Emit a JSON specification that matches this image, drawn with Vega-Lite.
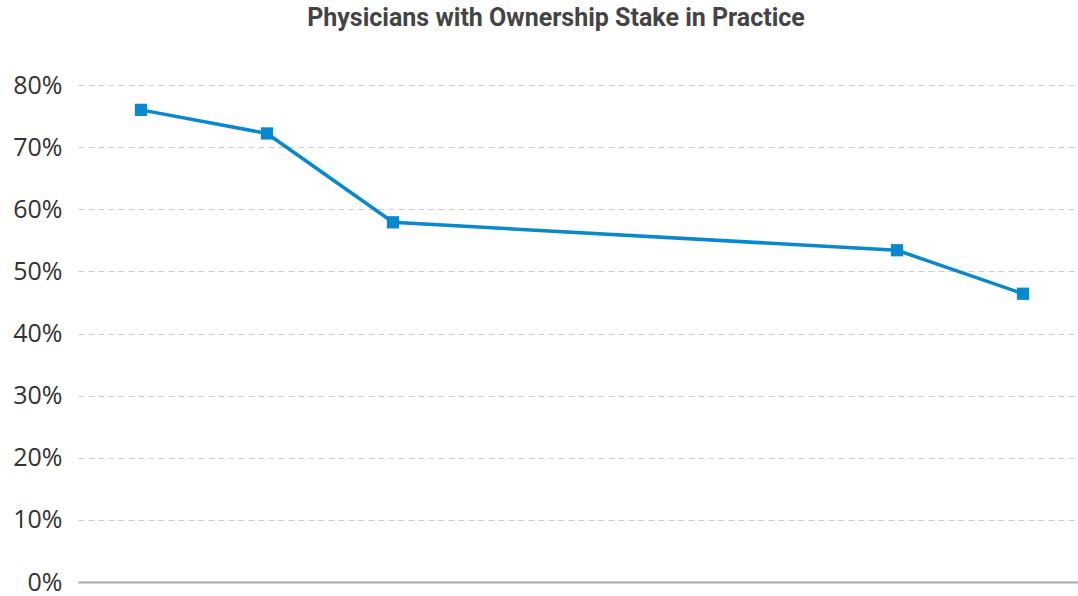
{
  "$schema": "https://vega.github.io/schema/vega-lite/v6.json",
  "width": 1008,
  "height": 497,
  "autosize": {"type": "none"},
  "padding": {"left": 78, "top": 85, "right": 0, "bottom": 14},
  "background": "white",
  "title": {
    "text": "Physicians with Ownership Stake in Practice",
    "font": "Roboto",
    "fontSize": 25,
    "fontWeight": "bold",
    "color": "#444444",
    "anchor": "middle",
    "dx": -26,
    "offset": 42
  },
  "data": {
    "values": [
      {"period": 0, "share": 0.76},
      {"period": 1, "share": 0.722},
      {"period": 2, "share": 0.579},
      {"period": 6, "share": 0.534},
      {"period": 7, "share": 0.464}
    ]
  },
  "config": {"view": {"stroke": null}},
  "encoding": {
    "x": {
      "field": "period",
      "type": "quantitative",
      "scale": {"domain": [-0.5, 7.5], "nice": false, "zero": false},
      "axis": {
        "title": null,
        "labels": false,
        "ticks": false,
        "grid": false,
        "domainColor": "#aaaaaa",
        "domainWidth": 2
      }
    },
    "y": {
      "field": "share",
      "type": "quantitative",
      "scale": {"domain": [0, 0.8], "nice": false},
      "axis": {
        "title": null,
        "format": ".0%",
        "values": [0, 0.1, 0.2, 0.3, 0.4, 0.5, 0.6, 0.7, 0.8],
        "domain": false,
        "ticks": false,
        "labelFont": "Open Sans",
        "labelFontSize": 25,
        "labelColor": "#333333",
        "labelPadding": 16,
        "gridColor": "#cccccc",
        "gridDash": [6, 4],
        "gridWidth": 1
      }
    }
  },
  "layer": [
    {"mark": {"type": "line", "color": "#0a88cf", "strokeWidth": 3.5}},
    {"mark": {"type": "point", "shape": "square", "filled": true, "opacity": 1, "size": 150, "color": "#0a88cf"}}
  ]
}
